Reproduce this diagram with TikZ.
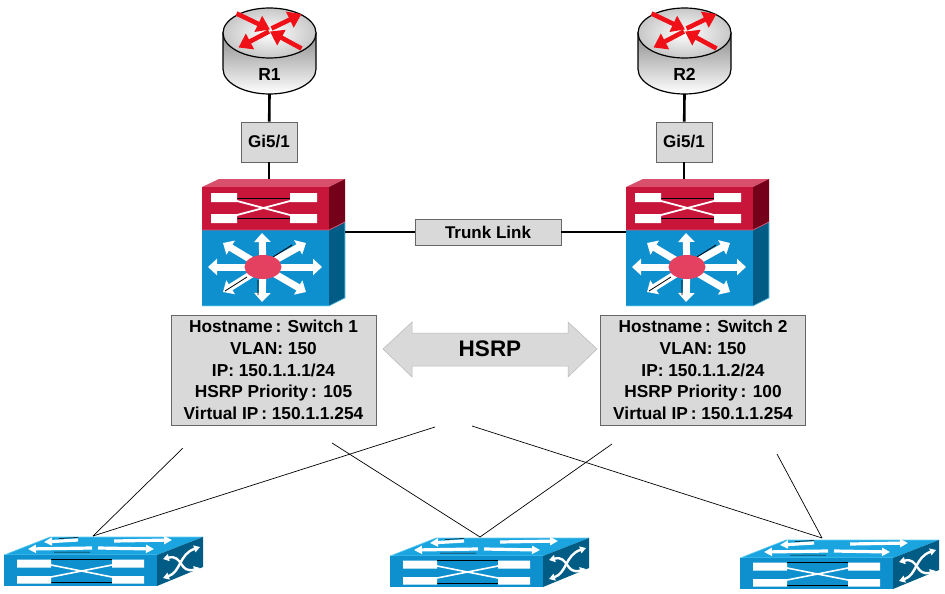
\documentclass[tikz,border=0pt]{standalone}
\usepackage{fontspec}
\setmainfont{Liberation Sans}
\usetikzlibrary{arrows.meta}
\definecolor{boxgrey}{HTML}{D9D9D9}
\definecolor{boxedge}{HTML}{666666}
\definecolor{swred}{HTML}{C8163A}
\definecolor{swredtop}{HTML}{D9506C}
\definecolor{swreddark}{HTML}{75001A}
\definecolor{swblue}{HTML}{0E90CE}
\definecolor{swbluetop}{HTML}{1BA5E0}
\definecolor{swbluedark}{HTML}{005C84}
\definecolor{hubred}{HTML}{E4405F}
\definecolor{routred}{HTML}{F01018}
\tikzset{
  labelbox/.style={draw=boxedge,fill=boxgrey,line width=0.9pt,font=\bfseries\fontsize{17}{18}\selectfont,inner sep=0pt},
  infobox/.style={labelbox,minimum width=205,minimum height=110,align=center,font=\bfseries\fontsize{17.3}{21.6}\selectfont},
  wire/.style={line width=2.6pt},
  thin wire/.style={line width=0.7pt},
  routarrow/.style={routred,line width=4.6pt,-{Triangle[length=13pt,width=17pt]}},
  hubarrow/.style={white,line width=7pt,-{Triangle[length=9pt,width=16pt]}},
  topflow/.style={white,line width=3.2pt,-{Triangle[length=8pt,width=8pt]}},
  sideflow/.style={white,line width=2.4pt,{Triangle[length=6pt,width=7pt]}-{Triangle[length=6pt,width=7pt]}}
}
% router drum: #1 name, #2 centre x
\newcommand{\routericon}[3]{
  \begin{scope}[xshift=#2]
  \draw[line width=1.2pt,top color=black!45,bottom color=white]
    (-46.5,33) -- (-46.5,69) arc[start angle=180,end angle=360,x radius=46.5pt,y radius=25pt] -- (46.5,33) -- cycle;
  \draw[line width=1.2pt,inner color=white,outer color=black!22] (0,33) ellipse[x radius=46.5pt,y radius=25pt];
  \draw[routarrow] (-33,13.5) -- (0.5,29.5);
  \draw[routarrow] (2,28.5) -- (32,14);
  \draw[routarrow] (32,48.5) -- (0.5,31.5);
  \draw[routarrow] (-0.5,31.5) -- (-31,47.5);
  \node[font=\bfseries\fontsize{17.5}{18}\selectfont] (#1) at (0,74) {#3};
  \coordinate (#1foot) at (0,94);
  \end{scope}
}
% layer 3 switch: #1 name, #2 left edge of the front
\newcommand{\mlsicon}[2]{
  \begin{scope}[xshift=#2,yshift=-187pt]
  \fill[swredtop] (0,0) -- (17,-8) -- (143,-8) -- (127,0) -- cycle;
  \fill[swred] (0,0) rectangle (127,43);
  \fill[swreddark] (127,0) -- (143,-8) -- (143,35) -- (127,43) -- cycle;
  \fill[swblue] (0,43) rectangle (127,119);
  \fill[swbluedark] (127,43) -- (143,35) -- (143,111) -- (127,119) -- cycle;
  \draw[swredtop,line width=0.8pt] (0,43) -- (127,43) -- (143,35);
  \draw[cyan!55!white,line width=0.6pt] (0,119) -- (127,119) -- (143,111) -- (143,35);
  \draw[line width=0.7pt] (35,11) -- (88,11) (35,31) -- (88,31);
  \draw[white,line width=1.8pt] (35,14) -- (88,28) (35,28) -- (88,14);
  \fill[white] (9,6) rectangle (35,15) (9,27) rectangle (35,36)
    (88,6) rectangle (115,15) (88,27) rectangle (115,36);
  \foreach \tipx/\tipy in {60/46,60/115,120/80,6/80,104/56,21/56,104/105,21/105}
    \draw[hubarrow] (61,80) -- (\tipx,\tipy);
  \draw[line width=0.8pt] (71,70) -- (90,58) (45,90) -- (23,104) (56,93) -- (56,108);
  \fill[hubred] (61,80) ellipse[x radius=18.5pt,y radius=12pt];
  \coordinate (#1top) at (66,-8);
  \coordinate (#1side) at (143,45);
  \coordinate (#1west) at (0,45);
  \end{scope}
}
% access switch: #1 name, #2 left edge, #3 top of the front
\newcommand{\accessicon}[3]{
  \begin{scope}[xshift=#2,yshift=-#3]
  \fill[swbluetop] (0,0) -- (46,-18) -- (199,-18) -- (153,0) -- cycle;
  \draw[cyan!60!white,line width=0.6pt] (0,0) -- (46,-18) -- (199,-18) (0,0) -- (153,0);
  \fill[swblue] (0,0) rectangle (153,31);
  \fill[swbluedark] (153,0) -- (199,-18) -- (199,12) -- (153,31) -- cycle;
  \draw[line width=0.6pt] (47,4) -- (108,4) (47,27) -- (108,27);
  \draw[white,line width=1.6pt] (47,10) -- (108,22) (47,22) -- (108,10);
  \fill[white] (13,4.5) rectangle (47,12.5) (13,21) rectangle (47,28.5)
    (108,4.5) rectangle (140,12.5) (108,21) rectangle (140,28.5);
  \draw[topflow] (74,-15) -- (40,-13);
  \draw[topflow] (110,-14) -- (168,-15);
  \draw[topflow] (88,-7) -- (24,-6);
  \draw[topflow] (94,-7) -- (150,-6);
  \draw[line width=0.5pt] (55,-16.5) -- (74,-17.5) (50,-3) -- (86,-3);
  \draw[sideflow] (159,23) .. controls (177,17) and (175,-1) .. (196,-8);
  \draw[sideflow] (159,4) .. controls (179,-1) and (175,19) .. (196,13);
  \coordinate (#1top) at (88,-18);
  \end{scope}
}
\begin{document}
\begin{tikzpicture}[x=1pt,y=-1pt]
\useasboundingbox (0,0) rectangle (945,594);
\routericon{rone}{269.5pt}{R1}
\routericon{rtwo}{684.5pt}{R2}
\mlsicon{swone}{202pt}
\mlsicon{swtwo}{626pt}
\accessicon{acca}{4pt}{555pt}
\accessicon{accb}{390pt}{556pt}
\accessicon{accc}{740pt}{558pt}
\node[labelbox,minimum width=56,minimum height=40] (gione) at (269,142) {Gi5/1};
\node[labelbox,minimum width=56,minimum height=40] (gitwo) at (684,142) {Gi5/1};
\node[labelbox,minimum width=146,minimum height=26] (trunk) at (488,232) {Trunk Link};
\node[infobox] (infoone) at (273.5,370) {Hostname\,: Switch 1\\VLAN: 150\\IP: 150.1.1.1/24\\HSRP Priority\,: 105\\Virtual IP\,: 150.1.1.254};
\node[infobox] (infotwo) at (703,370) {Hostname\,: Switch 2\\VLAN: 150\\IP: 150.1.1.2/24\\HSRP Priority\,: 100\\Virtual IP\,: 150.1.1.254};
\draw[wire] (ronefoot) -- (gione);
\draw[wire] (gione) -- (gione |- swonetop);
\draw[wire] (rtwofoot) -- (gitwo);
\draw[wire] (gitwo) -- (gitwo |- swtwotop);
\draw[wire] (swoneside) -- (trunk);
\draw[wire] (trunk) -- (swtwowest);
% HSRP double arrow
\draw[boxgrey!85!black,fill=boxgrey,line width=0.5pt] (383,349) -- (412,322) -- (412,333) -- (568,333) -- (568,322) -- (597,349)
  -- (568,377) -- (568,366) -- (412,366) -- (412,377) -- cycle;
\node[font=\bfseries\fontsize{22.5}{26}\selectfont] (hsrp) at (490,349) {HSRP};
% uplinks
\coordinate (upa) at (183,448);
\coordinate (upb) at (435,427);
\coordinate (upc) at (332,443);
\coordinate (upd) at (612,444);
\coordinate (upe) at (472,426);
\coordinate (upf) at (777,454);
\coordinate (downa) at (93,536);
\coordinate (downb) at (480,537);
\coordinate (downc) at (822,538);
\draw[thin wire] (upa) -- (downa);
\draw[thin wire] (upb) -- (downa);
\draw[thin wire] (upc) -- (downb);
\draw[thin wire] (upd) -- (downb);
\draw[thin wire] (upe) -- (downc);
\draw[thin wire] (upf) -- (downc);
\end{tikzpicture}
\end{document}
